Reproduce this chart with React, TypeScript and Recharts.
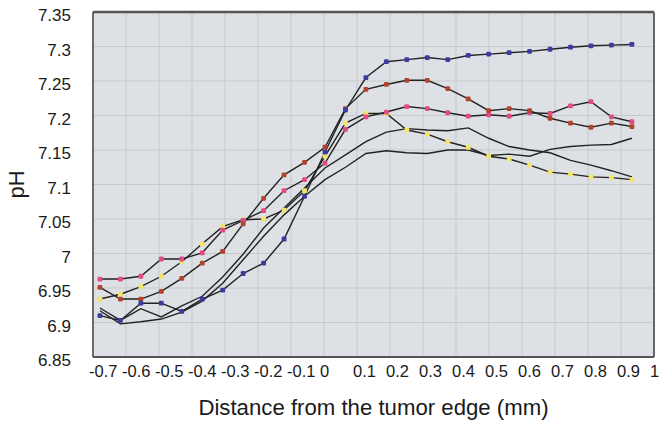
import React from 'react';
import { LineChart, Line, XAxis, YAxis, CartesianGrid, ReferenceLine, Label } from 'recharts';

// distance from the tumor edge (mm) of each measurement point
const distances = [-0.679, -0.617, -0.555, -0.493, -0.431, -0.369, -0.307, -0.245, -0.183, -0.121, -0.059, 0.003, 0.065, 0.127, 0.189, 0.251, 0.313, 0.375, 0.437, 0.499, 0.561, 0.623, 0.685, 0.747, 0.809, 0.871, 0.933];

const blueSeries = [6.910, 6.903, 6.928, 6.928, 6.916, 6.934, 6.947, 6.971, 6.986, 7.021, 7.083, 7.147, 7.208, 7.255, 7.278, 7.281, 7.284, 7.281, 7.287, 7.289, 7.291, 7.293, 7.296, 7.299, 7.301, 7.302, 7.303];
const redSeries = [6.951, 6.934, 6.934, 6.945, 6.964, 6.986, 7.003, 7.043, 7.080, 7.114, 7.132, 7.154, 7.210, 7.238, 7.245, 7.251, 7.251, 7.239, 7.224, 7.207, 7.210, 7.207, 7.196, 7.189, 7.183, 7.189, 7.184];
const pinkSeries = [6.963, 6.963, 6.967, 6.992, 6.992, 7.001, 7.034, 7.048, 7.062, 7.091, 7.107, 7.131, 7.180, 7.198, 7.205, 7.213, 7.210, 7.204, 7.199, 7.201, 7.199, 7.204, 7.203, 7.214, 7.220, 7.198, 7.191];
const yellowSeries = [6.934, 6.941, 6.952, 6.967, 6.988, 7.014, 7.039, 7.049, 7.050, 7.063, 7.091, 7.141, 7.189, 7.203, 7.203, 7.179, 7.173, 7.162, 7.154, 7.141, 7.137, 7.128, 7.118, 7.115, 7.111, 7.110, 7.107];
const plainSeriesA = [6.921, 6.903, 6.920, 6.908, 6.924, 6.938, 6.966, 6.999, 7.037, 7.066, 7.095, 7.124, 7.143, 7.162, 7.176, 7.181, 7.179, 7.178, 7.182, 7.167, 7.155, 7.150, 7.146, 7.135, 7.128, 7.120, 7.111];
const plainSeriesB = [6.917, 6.898, 6.901, 6.905, 6.915, 6.931, 6.957, 6.991, 7.025, 7.056, 7.083, 7.107, 7.125, 7.145, 7.149, 7.146, 7.145, 7.150, 7.150, 7.142, 7.144, 7.141, 7.151, 7.155, 7.157, 7.158, 7.167];

const xTicks = [-0.7, -0.6, -0.5, -0.4, -0.3, -0.2, -0.1, 0, 0.1, 0.2, 0.3, 0.4, 0.5, 0.6, 0.7, 0.8, 0.9, 1];
const yTicks = [6.85, 6.9, 6.95, 7, 7.05, 7.1, 7.15, 7.2, 7.25, 7.3, 7.35];

const data = distances.map((d, i) => ({
  x: d,
  blue: blueSeries[i],
  red: redSeries[i],
  pink: pinkSeries[i],
  yellow: yellowSeries[i],
  a: plainSeriesA[i],
  b: plainSeriesB[i],
}));

const FONT = '"Liberation Sans", Arial, sans-serif';

const squareDot = (color: string) => (props: any) => {
  const { cx, cy, index } = props;
  if (cx == null || cy == null) return <g key={`d-${index}`} />;
  return (
    <rect key={`d-${color}-${index}`} x={cx - 2.4} y={cy - 2.4} width={4.8} height={4.8} rx={1.2} fill={color} stroke="none" />
  );
};

const XTick = (props: any) => {
  const { x, y, payload } = props;
  return (
    <text x={x - 4} y={y} dy="0.71em" textAnchor="start" fontSize={16.5} fill="#1a1a1a" fontFamily={FONT}>
      {String(payload.value)}
    </text>
  );
};

const YTick = (props: any) => {
  const { x, y, payload } = props;
  return (
    <text x={x} y={y + 3} dy="0.355em" textAnchor="end" fontSize={17} fill="#1a1a1a" fontFamily={FONT}>
      {String(payload.value)}
    </text>
  );
};

export default function App() {
  return (
    <div style={{ position: 'absolute', left: 0, top: 0, width: 659, height: 423, background: '#ffffff' }}>
      <LineChart width={659} height={423} data={data} margin={{ top: 12, right: 5, left: 0, bottom: 0 }}>
        <CartesianGrid fill="#dde0e4" stroke="#c6c9cc" strokeWidth={1} />
        <XAxis
          dataKey="x"
          type="number"
          domain={[-0.7, 1]}
          ticks={xTicks}
          allowDataOverflow
          height={66}
          tickLine={false}
          tickSize={6}
          tickMargin={2}
          tick={<XTick />}
          axisLine={{ stroke: '#555555', strokeWidth: 2 }}
        >
          <Label
            content={(p: any) => {
              const vb = p.viewBox;
              return (
                <text x={vb.x + vb.width / 2} y={415} textAnchor="middle" fontSize={22.2} fill="#1a1a1a" fontFamily={FONT}>
                  Distance from the tumor edge (mm)
                </text>
              );
            }}
          />
        </XAxis>
        <YAxis
          type="number"
          domain={[6.85, 7.35]}
          ticks={yTicks}
          allowDataOverflow
          width={93}
          tickLine={false}
          tickSize={0}
          tickMargin={22}
          tick={<YTick />}
          axisLine={{ stroke: '#444444', strokeWidth: 1.5 }}
        >
          <Label
            content={(p: any) => {
              const vb = p.viewBox;
              const cx = 16;
              const cy = vb.y + vb.height / 2;
              return (
                <text x={cx} y={cy} transform={`rotate(-90, ${cx}, ${cy})`} textAnchor="middle" dominantBaseline="central" fontSize={22} fill="#1a1a1a" fontFamily={FONT}>
                  pH
                </text>
              );
            }}
          />
        </YAxis>
        <ReferenceLine y={7.35} stroke="#555555" strokeWidth={2.5} />
        <ReferenceLine x={1} stroke="#666666" strokeWidth={2} />
        <Line type="linear" dataKey="a" stroke="#222222" strokeWidth={1.4} dot={false} isAnimationActive={false} />
        <Line type="linear" dataKey="b" stroke="#222222" strokeWidth={1.4} dot={false} isAnimationActive={false} />
        <Line type="linear" dataKey="yellow" stroke="#222222" strokeWidth={1.4} dot={squareDot('#f2e46a')} isAnimationActive={false} />
        <Line type="linear" dataKey="pink" stroke="#222222" strokeWidth={1.4} dot={squareDot('#e24a86')} isAnimationActive={false} />
        <Line type="linear" dataKey="red" stroke="#222222" strokeWidth={1.4} dot={squareDot('#b2432e')} isAnimationActive={false} />
        <Line type="linear" dataKey="blue" stroke="#222222" strokeWidth={1.4} dot={squareDot('#3c3c9e')} isAnimationActive={false} />
      </LineChart>
    </div>
  );
}
